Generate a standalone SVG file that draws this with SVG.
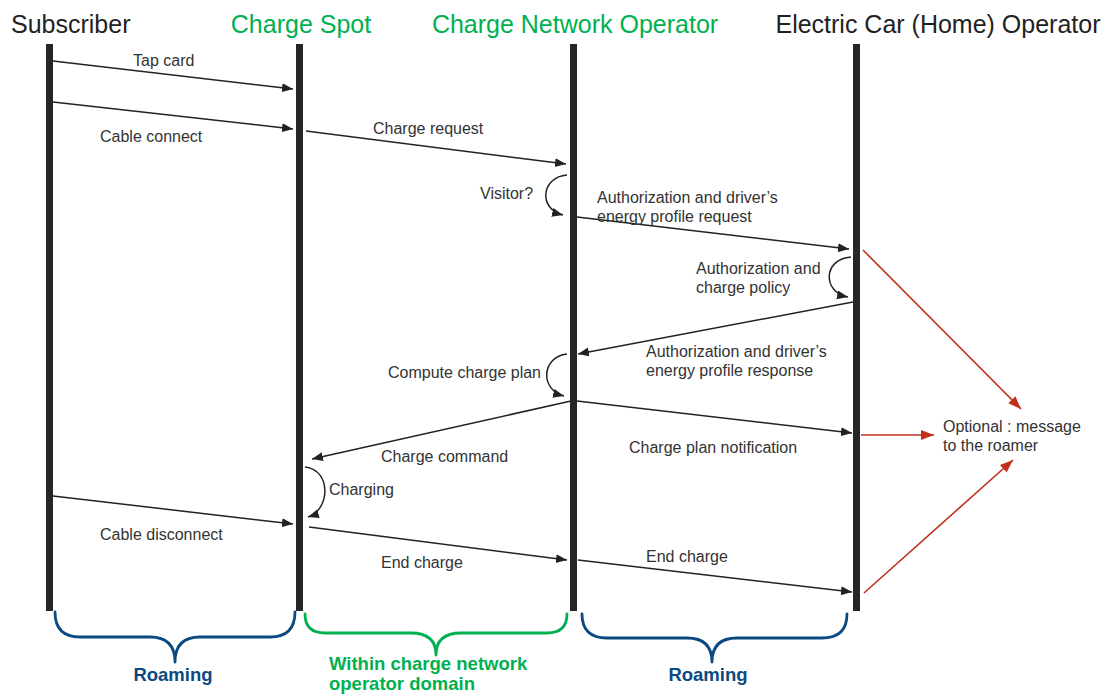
<svg xmlns="http://www.w3.org/2000/svg" width="1107" height="695" viewBox="0 0 1107 695">
  <style>
    .hdr { font-family: "Liberation Sans", Arial, sans-serif; font-size: 25px; }
    .dark { fill: #222; }
    .green { fill: #00b050; }
    .life { stroke: #262626; stroke-width: 7; }
    .msg { stroke: #222; stroke-width: 1.5; fill: none; marker-end: url(#ah); }
    .red { stroke: #c0301a; stroke-width: 1.6; fill: none; marker-end: url(#ahr); }
    .lbl { font-family: "Liberation Sans", Arial, sans-serif; font-size: 16px; fill: #333; }
    .brace { fill: none; stroke-width: 2.8; stroke-linecap: round; stroke-linejoin: round; }
    .blab { font-family: "Liberation Sans", Arial, sans-serif; font-size: 18.5px; font-weight: bold; }
  </style>
  <defs>
    <marker id="ah" markerUnits="userSpaceOnUse" markerWidth="12" markerHeight="10" refX="11" refY="4.5" orient="auto">
      <path d="M0,0 L11,4.5 L0,9 z" fill="#222"/>
    </marker>
    <marker id="ahr" markerUnits="userSpaceOnUse" markerWidth="14" markerHeight="12" refX="13" refY="5" orient="auto">
      <path d="M0,0 L13,5 L0,10 z" fill="#c0301a"/>
    </marker>
  </defs>

  <!-- participants -->
  <g id="subscriber">
    <text class="hdr dark" x="11" y="33">Subscriber</text>
    <line class="life" x1="49.5" y1="44" x2="49.5" y2="611"/>
  </g>
  <g id="charge-spot">
    <text class="hdr green" x="301" y="33" text-anchor="middle">Charge Spot</text>
    <line class="life" x1="299.5" y1="44" x2="299.5" y2="611"/>
  </g>
  <g id="charge-network-operator">
    <text class="hdr green" x="575" y="33" text-anchor="middle">Charge Network Operator</text>
    <line class="life" x1="573.5" y1="44" x2="573.5" y2="611"/>
  </g>
  <g id="home-operator">
    <text class="hdr dark" x="938" y="33" text-anchor="middle">Electric Car (Home) Operator</text>
    <line class="life" x1="856.5" y1="44" x2="856.5" y2="611"/>
  </g>

  <!-- messages -->
  <g id="connectors">
    <path class="msg" d="M53,61 L293,89"/>
    <path class="msg" d="M53,102 L293,129"/>
    <path class="msg" d="M306,131 L566,164"/>
    <path class="msg" d="M567,175 C541,177 538,209 563,215"/>
    <path class="msg" d="M577,217 L849,249"/>
    <path class="msg" d="M851,257 C823,259 822,292 848,297"/>
    <path class="msg" d="M853,302 L578,354"/>
    <path class="msg" d="M567,354 C541,357 540,390 564,396"/>
    <path class="msg" d="M577,401 L852,433"/>
    <path class="msg" d="M571,401 L312,459"/>
    <path class="msg" d="M305,467 C332,470 330,510 308,517"/>
    <path class="msg" d="M53,496 L293,524"/>
    <path class="msg" d="M309,527 L567,560"/>
    <path class="msg" d="M578,560 L852,592"/>

    <!-- optional notifications to the roamer -->
    <path class="red" d="M863,250 L1021,409"/>
    <path class="red" d="M861,435 L934,435"/>
    <path class="red" d="M864,593 L1013,460"/>
  </g>

  <!-- message labels -->
  <g id="labels">
    <text class="lbl" x="133" y="66">Tap card</text>
    <text class="lbl" x="100" y="142">Cable connect</text>
    <text class="lbl" x="373" y="134">Charge request</text>
    <text class="lbl" x="480" y="199">Visitor?</text>
    <text class="lbl" x="597" y="203">Authorization and driver’s</text>
    <text class="lbl" x="597" y="222">energy profile request</text>
    <text class="lbl" x="696" y="274">Authorization and</text>
    <text class="lbl" x="696" y="293">charge policy</text>
    <text class="lbl" x="646" y="357">Authorization and driver’s</text>
    <text class="lbl" x="646" y="376">energy profile response</text>
    <text class="lbl" x="541" y="378" text-anchor="end">Compute charge plan</text>
    <text class="lbl" x="629" y="453">Charge plan notification</text>
    <text class="lbl" x="381" y="462">Charge command</text>
    <text class="lbl" x="329" y="495">Charging</text>
    <text class="lbl" x="100" y="540">Cable disconnect</text>
    <text class="lbl" x="381" y="568">End charge</text>
    <text class="lbl" x="646" y="562">End charge</text>
    <text class="lbl" x="943" y="432">Optional : message</text>
    <text class="lbl" x="943" y="451">to the roamer</text>
  </g>

  <!-- domain braces -->
  <g id="brace-roaming-left">
    <path class="brace" stroke="#0b4a80" d="M55,612 Q55,637 80,637 L150,637 Q175,637 175,662 Q175,637 200,637 L270,637 Q295,637 295,612"/>
    <text class="blab" x="173" y="681" fill="#0b4a80" text-anchor="middle">Roaming</text>
  </g>
  <g id="brace-operator-domain">
    <path class="brace" stroke="#00b050" d="M305,614 Q305,633 325,633 L411,633 Q436,633 436,655 Q436,633 461,633 L547,633 Q567,633 567,614"/>
    <text class="blab" x="329" y="670" fill="#00b050">Within charge network</text>
    <text class="blab" x="329" y="690" fill="#00b050">operator domain</text>
  </g>
  <g id="brace-roaming-right">
    <path class="brace" stroke="#0b4a80" d="M582,614 Q582,638 607,638 L687,638 Q712,638 712,662 Q712,638 737,638 L822,638 Q847,638 847,614"/>
    <text class="blab" x="708" y="681" fill="#0b4a80" text-anchor="middle">Roaming</text>
  </g>
</svg>
